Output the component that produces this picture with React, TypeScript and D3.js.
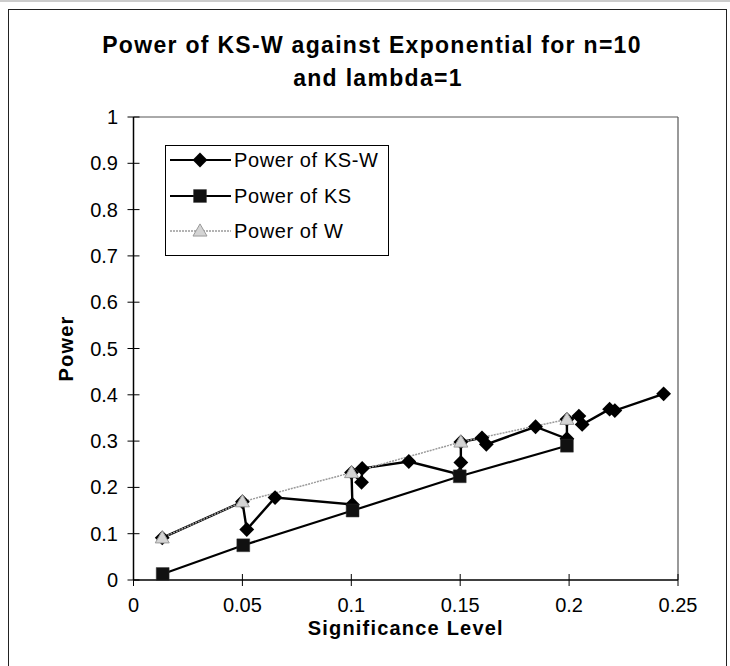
import React from "react";
import * as d3 from "d3";

const title1 = "Power of KS-W against Exponential for n=10";
const title2 = "and lambda=1";
const xTitle = "Significance Level";
const yTitle = "Power";

const xTicks = [0, 0.05, 0.1, 0.15, 0.2, 0.25];
const xTickLabels = ["0", "0.05", "0.1", "0.15", "0.2", "0.25"];
const yTicks = [0, 0.1, 0.2, 0.3, 0.4, 0.5, 0.6, 0.7, 0.8, 0.9, 1];
const yTickLabels = ["0", "0.1", "0.2", "0.3", "0.4", "0.5", "0.6", "0.7", "0.8", "0.9", "1"];

// Power of KS-W (points in data order, as connected)
const kswX = [0.0132, 0.05, 0.052, 0.065, 0.1005, 0.1001, 0.1047, 0.105, 0.1264, 0.1498, 0.1503, 0.1503, 0.16, 0.162, 0.1846, 0.199, 0.199, 0.2045, 0.206, 0.2186, 0.221, 0.2434];
const kswY = [0.091, 0.169, 0.109, 0.178, 0.163, 0.232, 0.211, 0.241, 0.256, 0.228, 0.254, 0.298, 0.307, 0.293, 0.331, 0.305, 0.347, 0.354, 0.336, 0.369, 0.366, 0.402];

// Power of KS
const ksX = [0.0134, 0.0504, 0.1006, 0.1498, 0.199];
const ksY = [0.013, 0.075, 0.15, 0.224, 0.29];

// Power of W
const wX = [0.0132, 0.05, 0.1001, 0.1503, 0.199];
const wY = [0.091, 0.169, 0.232, 0.298, 0.347];

const seriesNames = ["Power of KS-W", "Power of KS", "Power of W"];

const W = 730;
const H = 666;
const plot = { left: 133.5, right: 678, top: 117, bottom: 580 };

export default function App() {
  const x = d3.scaleLinear().domain([0, 0.25]).range([plot.left, plot.right]);
  const y = d3.scaleLinear().domain([0, 1]).range([plot.bottom, plot.top]);
  const line = d3
    .line<[number, number]>()
    .x((d) => x(d[0]))
    .y((d) => y(d[1]));

  const ksw: [number, number][] = kswX.map((v, i) => [v, kswY[i]]);
  const ks: [number, number][] = ksX.map((v, i) => [v, ksY[i]]);
  const wp: [number, number][] = wX.map((v, i) => [v, wY[i]]);

  const diamond = d3.symbol().type(d3.symbolSquare).size(110)()!;
  const square = d3.symbol().type(d3.symbolSquare).size(165)()!;
  const triangle = d3.symbol().type(d3.symbolTriangle).size(85)()!;

  const font = "'Liberation Sans', Arial, sans-serif";

  const Diamond = ({ cx, cy }: { cx: number; cy: number }) => (
    <path d={diamond} transform={`translate(${cx},${cy}) rotate(45)`} fill="#000" />
  );
  const Square = ({ cx, cy }: { cx: number; cy: number }) => (
    <path d={square} transform={`translate(${cx},${cy})`} fill="#111" stroke="#333" strokeWidth={0.5} />
  );
  const Tri = ({ cx, cy }: { cx: number; cy: number }) => (
    <path d={triangle} transform={`translate(${cx},${cy + 1})`} fill="#d4d4d4" stroke="#9a9a9a" strokeWidth={1} />
  );

  const legendRows = [160, 196, 231];

  return (
    <svg width={W} height={H} style={{ position: "absolute", left: 0, top: 0, background: "#fff" }}>
      <rect x={0} y={0} width={W} height={H} fill="#fff" />
      {/* outer frame */}
      <line x1={0} y1={1} x2={W} y2={1} stroke="#999" strokeWidth={1} />
      <rect x={8.5} y={9.5} width={718} height={660} fill="none" stroke="#222" strokeWidth={1} />

      {/* title */}
      <text x={372} y={53} textAnchor="middle" fontFamily={font} fontWeight="bold" fontSize={23} letterSpacing={1.3}>
        {title1}
      </text>
      <text x={378} y={86} textAnchor="middle" fontFamily={font} fontWeight="bold" fontSize={23} letterSpacing={1.3}>
        {title2}
      </text>

      {/* plot border */}
      <line x1={plot.left} y1={plot.top} x2={plot.right} y2={plot.top} stroke="#555" strokeWidth={1} />
      <line x1={plot.right} y1={plot.top} x2={plot.right} y2={plot.bottom} stroke="#555" strokeWidth={1.2} />

      {/* axes */}
      <line x1={plot.left} y1={plot.top} x2={plot.left} y2={plot.bottom} stroke="#000" strokeWidth={1.5} />
      <line x1={plot.left} y1={plot.bottom} x2={plot.right} y2={plot.bottom} stroke="#000" strokeWidth={1.5} />
      {yTicks.map((t, i) => (
        <g key={"yt" + i}>
          <line x1={plot.left - 6} x2={plot.left + 6} y1={y(t)} y2={y(t)} stroke="#000" strokeWidth={1} />
          <text x={118} y={y(t)} dy="0.35em" textAnchor="end" fontFamily={font} fontSize={20}>
            {yTickLabels[i]}
          </text>
        </g>
      ))}
      {xTicks.map((t, i) => (
        <g key={"xt" + i}>
          <line x1={x(t)} x2={x(t)} y1={plot.bottom - 6} y2={plot.bottom + 6} stroke="#000" strokeWidth={1} />
          <text x={x(t)} y={605} dy="0.35em" textAnchor="middle" fontFamily={font} fontSize={20}>
            {xTickLabels[i]}
          </text>
        </g>
      ))}

      <text x={(plot.left + plot.right) / 2} y={628} dy="0.35em" textAnchor="middle" fontFamily={font} fontWeight="bold" fontSize={20} letterSpacing={1.2}>
        {xTitle}
      </text>
      <text
        transform={`translate(66,${(plot.top + plot.bottom) / 2}) rotate(-90)`}
        dy="0.35em"
        textAnchor="middle"
        fontFamily={font}
        fontWeight="bold"
        fontSize={20}
        letterSpacing={1.2}
      >
        {yTitle}
      </text>

      {/* series */}
      <path d={line(ksw)!} fill="none" stroke="#000" strokeWidth={2.4} />
      <path d={line(ks)!} fill="none" stroke="#000" strokeWidth={2.2} />
      <path d={line(wp)!} fill="none" stroke="#9a9a9a" strokeWidth={1.5} strokeDasharray="2,1" />
      {ksw.map((d, i) => (
        <Diamond key={"d" + i} cx={x(d[0])} cy={y(d[1])} />
      ))}
      {ks.map((d, i) => (
        <Square key={"s" + i} cx={x(d[0])} cy={y(d[1])} />
      ))}
      {wp.map((d, i) => (
        <Tri key={"t" + i} cx={x(d[0])} cy={y(d[1])} />
      ))}

      {/* legend */}
      <rect x={165.5} y={145.5} width={223} height={110} fill="#fff" stroke="#000" strokeWidth={1} />
      <line x1={170} x2={231} y1={legendRows[0]} y2={legendRows[0]} stroke="#000" strokeWidth={2} />
      <Diamond cx={200} cy={legendRows[0]} />
      <line x1={170} x2={231} y1={legendRows[1]} y2={legendRows[1]} stroke="#000" strokeWidth={2} />
      <Square cx={200} cy={legendRows[1]} />
      <line x1={170} x2={231} y1={legendRows[2]} y2={legendRows[2]} stroke="#9a9a9a" strokeWidth={1.5} strokeDasharray="2,1" />
      <Tri cx={200} cy={legendRows[2]} />
      {seriesNames.map((n, i) => (
        <text key={n} x={234} y={legendRows[i]} dy="0.35em" fontFamily={font} fontSize={20} letterSpacing={0.6}>
          {n}
        </text>
      ))}
    </svg>
  );
}
